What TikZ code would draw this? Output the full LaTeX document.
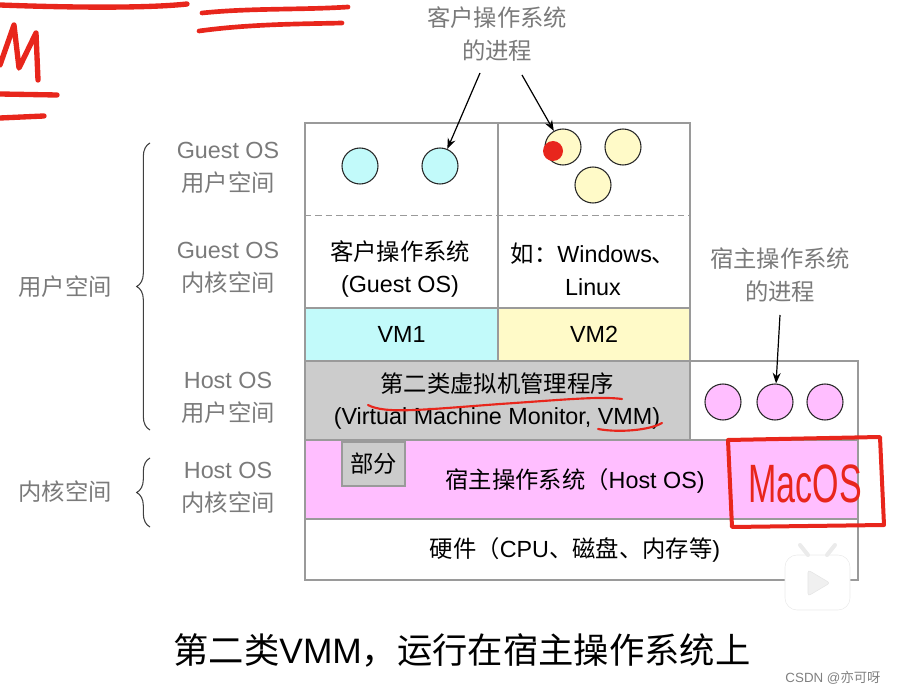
\documentclass[tikz,border=0pt]{standalone}
\usepackage{fontspec}
\setmainfont{Liberation Sans}
\newfontfamily\zh{Noto Sans CJK SC}
\usetikzlibrary{arrows.meta,decorations.pathreplacing}

\definecolor{vmcyan}{HTML}{C2FAFA}
\definecolor{vmyellow}{HTML}{FFFAC8}
\definecolor{vmmgray}{HTML}{CCCCCC}
\definecolor{hostpink}{HTML}{FFBEFF}
\definecolor{framegray}{HTML}{9A9A9A}
\definecolor{labelgray}{HTML}{7A7A7A}
\definecolor{penred}{HTML}{E8261C}

\tikzset{
  cell/.style={draw=framegray, line width=0.9pt, rectangle, inner sep=0pt},
  proc/.style={draw=black!85, circle, minimum size=27pt, inner sep=0pt, line width=0.8pt},
  txt/.style={font=\fontsize{17.5}{24.5}\selectfont, align=center, inner sep=0pt},
  side/.style={txt, text=labelgray},
  pen/.style={draw=penred, line cap=round, line join=round},
}

\begin{document}
\begin{tikzpicture}[x=0.75pt, y=-0.75pt, >={Stealth[length=8pt,width=6pt]}]
          \useasboundingbox (0,0) rectangle (897,695);

          % Boxes of the stack
          \node[cell, minimum width=144.75pt, minimum height=138.75pt] (guest1) at (401.5,215.5) {};
          \node[cell, minimum width=144pt, minimum height=138.75pt] (guest2) at (594,215.5) {};
          \node[cell, txt, fill=vmcyan, minimum width=144.75pt, minimum height=39.75pt] (vm1) at (401.5,334.5) {VM1};
          \node[cell, txt, fill=vmyellow, minimum width=144pt, minimum height=39.75pt] (vm2) at (594,334.5) {VM2};
          \node[cell, fill=vmmgray, minimum width=288.75pt, minimum height=59.25pt] (vmm) at (497.5,400.5) {};
          \node[cell, minimum width=126pt, minimum height=59.25pt] (hostuser) at (774,400.5) {};
          \node[cell, fill=hostpink, minimum width=414.75pt, minimum height=59.25pt] (hostos) at (581.5,479.5) {};
          \node[cell, txt, fill=vmmgray, minimum width=47.25pt, minimum height=33pt] (part) at (373.5,464) {\zh 部分};
          \node[cell, minimum width=414.75pt, minimum height=45.75pt] (hw) at (581.5,549.5) {};
          \draw[framegray, line width=0.9pt, dash pattern=on 5pt off 3pt] (guest1.west) -- (guest2.east);

          % Texts in the boxes
          \node[txt] (guestos) at (400,269) {{\zh 客户操作系统}\\(Guest OS)};
          \node[txt] (example) at (593,269) {{\zh 如：}Windows{\zh 、}\\Linux};
          \node[txt] (vmmtxt) at (497,401) {{\zh 第二类虚拟机管理程序}\\(Virtual Machine Monitor, VMM)};
          \node[txt] (hosttxt) at (575,481) {{\zh 宿主操作系统（}Host OS)};
          \node[txt] (hwtxt) at (575,550) {{\zh 硬件（}CPU{\zh 、磁盘、内存等}\/)};

          % Processes (circles)
          \node[proc, fill=vmcyan] (g1) at (360,166) {};
          \node[proc, fill=vmcyan] (g2) at (440,166) {};
          \node[proc, fill=vmyellow] (w1) at (563,147) {};
          \node[proc, fill=vmyellow] (w2) at (623,147) {};
          \node[proc, fill=vmyellow] (w3) at (593,185) {};
          \node[proc, fill=hostpink] (h1) at (723,402) {};
          \node[proc, fill=hostpink] (h2) at (775,402) {};
          \node[proc, fill=hostpink] (h3) at (825,402) {};
          \node[circle, fill=penred, minimum size=15pt, inner sep=0pt] (dot) at (553,151) {};

          % Process labels
          \node[side] (guestproc) at (497,34) {{\zh 客户操作系统}\\{\zh 的进程}};
          \node[side] (hostproc) at (780,275) {{\zh 宿主操作系统}\\{\zh 的进程}};
          \coordinate (ga) at (480,73);
          \coordinate (gb) at (522,75);
          \coordinate (ha) at (780,315);
          \draw[->, line width=0.9pt] (ga) -- (g2);
          \draw[->, line width=0.9pt] (gb) -- (w1);
          \draw[->, line width=0.9pt] (ha) -- (h2);

          % Layer labels on the left
          \node[side] (gu) at (228,168) {Guest OS\\{\zh 用户空间}};
          \node[side] (gk) at (228,268) {Guest OS\\{\zh 内核空间}};
          \node[side] (hu) at (228,398) {Host OS\\{\zh 用户空间}};
          \node[side] (hk) at (228,488) {Host OS\\{\zh 内核空间}};
          \node[side] (user) at (65,287) {\zh 用户空间};
          \node[side] (kernel) at (65,492) {\zh 内核空间};
          \coordinate (ub) at (150,430);
          \coordinate (ut) at (150,143);
          \coordinate (kb) at (150,527);
          \coordinate (kt) at (150,458);
          \draw[black!75, line width=0.8pt, decorate, decoration={brace, amplitude=10pt}] (ub) -- (ut);
          \draw[black!75, line width=0.8pt, decorate, decoration={brace, amplitude=10pt}] (kb) -- (kt);

          % Caption and watermark
          \node[font=\fontsize{26.5}{30}\selectfont] (caption) at (462,650) {{\zh 第二类}VMM{\zh ，运行在宿主操作系统上}};
          \node[font=\fontsize{10}{12}\selectfont, text=gray] (mark) at (833,678) {CSDN @{\zh 亦可呀}};

          % Player icon
          \filldraw[fill=white, draw=black!8, rounded corners=9pt] (785,555) rectangle (850,610);
          \draw[black!8, line width=3pt, line cap=round] (800,545) -- (808,555);
          \draw[black!8, line width=3pt, line cap=round] (835,545) -- (827,555);
          \filldraw[fill=black!6, draw=black!10, rounded corners=2pt] (808,570) -- (830,583) -- (808,596) -- cycle;

          % Red pen marks
          \draw[pen, line width=4pt] (0,5) .. controls (80,8) and (150,8) .. (187,4);
          \draw[pen, line width=3.5pt] (202,13) .. controls (250,8) and (300,10) .. (348,7);
          \draw[pen, line width=3.5pt] (199,31) .. controls (250,24) and (300,24) .. (342,23);
          \draw[pen, line width=4pt] (0,65) -- (14,25) -- (19,68) -- (36,33) -- (38,80);
          \draw[pen, line width=4pt] (0,94) -- (57,95);
          \draw[pen, line width=4pt] (0,118) -- (44,116);
          \draw[pen, line width=1.6pt] (368,405) .. controls (385,414) and (420,410) .. (500,404) .. controls (560,400) and (600,396) .. (622,399);
          \draw[pen, line width=1.6pt] (598,429) .. controls (620,433) and (650,430) .. (662,423);
          \draw[pen, line width=3pt] (728,440) -- (880,437) -- (884,525) -- (732,527) -- cycle;
          \node[text=penred, font=\fontsize{30}{30}\selectfont] (macos) at (805,484) {\scalebox{0.85}[1.35]{MacOS}};
\end{tikzpicture}
\end{document}
